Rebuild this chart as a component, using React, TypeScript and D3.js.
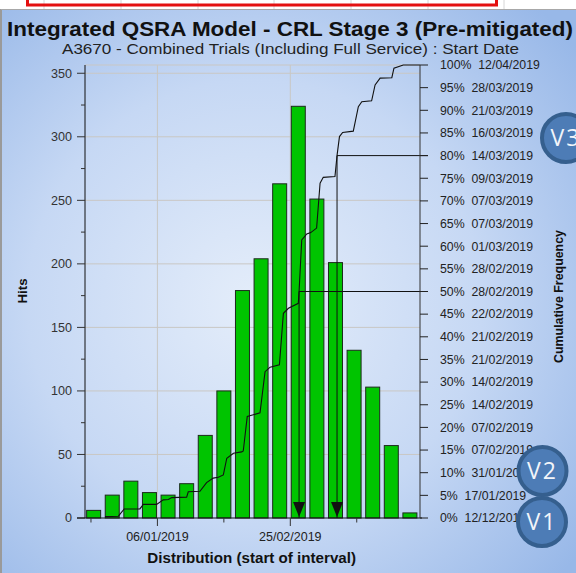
import React from 'react';
import * as d3 from 'd3';

// ---- data ----
const binStarts = ["2018-12-10","2018-12-17","2018-12-24","2018-12-31","2019-01-07","2019-01-14","2019-01-21","2019-01-28","2019-02-04","2019-02-11","2019-02-18","2019-02-25","2019-03-04","2019-03-11","2019-03-18","2019-03-25","2019-04-01","2019-04-08"];
const hits = [6,18,29,20,18,27,65,100,179,204,263,324,251,201,132,103,57,4];

// cumulative curve: days after 12/12/2018 and cumulative %
const cdfDays = [5.3,10.3,12.5,18.4,19.7,24.7,27.2,29.1,30.4,36.0,36.6,41.0,43.5,46.0,47.9,49.8,51.1,53.6,56.7,57.3,58.8,63.6,65.5,67.4,70.9,72.4,74.3,78.0,78.3,79.3,81.2,82.7,84.9,86.2,87.4,91.8,92.6,93.5,94.7,98.7,100.6,101.9,105.6,106.9,108.8,113.2,114.0,117.5,123.8];
const cdfPct  = [0.3,0.4,2.0,2.0,3.0,3.0,4.0,4.1,4.5,4.6,5.8,5.9,7.8,8.8,9.0,9.5,13.2,14.3,14.6,14.8,22.4,23.2,32.3,33.3,33.8,45.2,46.3,47.4,50.0,61.4,62.7,63.0,64.0,73.9,75.2,75.4,80.1,84.2,85.1,85.4,90.8,91.9,92.1,95.6,97.1,97.2,99.3,100,100];

const hitTicks = [0,50,100,150,200,250,300,350];
const hitMinorTicks = [25,75,125,175,225,275,325];
const xTickDates = ["2018-12-12","2019-01-06","2019-01-31","2019-02-25","2019-03-22"];
const xLabelDates = ["2019-01-06","2019-02-25"];
const xLabels = ["06/01/2019","25/02/2019"];
const pctTicks = [0,5,10,15,20,25,30,35,40,45,50,55,60,65,70,75,80,85,90,95,100];
const pctDates = ["12/12/2018","17/01/2019","31/01/2019","07/02/2019","07/02/2019","14/02/2019","14/02/2019","21/02/2019","21/02/2019","22/02/2019","28/02/2019","28/02/2019","01/03/2019","07/03/2019","07/03/2019","09/03/2019","14/03/2019","16/03/2019","21/03/2019","28/03/2019","12/04/2019"];
const markerPcts = [50, 80];
const badgeLabels = ["V1","V2","V3"];

const FONT = "'Liberation Sans', Arial, sans-serif";

export default function App() {
  const W = 576, H = 573;
  const L = 85, R = 420, T = 65, B = 518;
  const parse = d3.timeParse("%Y-%m-%d");
  const base = parse("2018-12-12") as Date;
  const DAY = 864e5;
  const x = d3.scaleTime()
    .domain([new Date(+base - 2.25 * DAY), new Date(+base + 123.8 * DAY)])
    .range([L, R]);
  const yL = d3.scaleLinear().domain([0, 356.5]).range([B, T]);
  const yR = d3.scaleLinear().domain([0, 100]).range([B, T]);
  const barW = 14;

  const bars = binStarts.map((s, i) => {
    const d = parse(s) as Date;
    const cx = x(new Date(+d + 3 * DAY));
    return { x: cx - barW / 2, y: yL(hits[i]), h: B - yL(hits[i]) };
  });

  const cdfPts: [number, number][] = cdfDays.map((d, i) => [x(new Date(+base + d * DAY)), yR(cdfPct[i])]);
  const linePath = d3.line()(cdfPts) || "";

  const crossDay = (p: number) => {
    for (let i = 1; i < cdfPct.length; i++) {
      if (cdfPct[i] >= p) {
        const t = (p - cdfPct[i - 1]) / (cdfPct[i] - cdfPct[i - 1]);
        return cdfDays[i - 1] + t * (cdfDays[i] - cdfDays[i - 1]);
      }
    }
    return cdfDays[cdfDays.length - 1];
  };

  const markers = markerPcts.map(p => ({ p, x: x(new Date(+base + crossDay(p) * DAY)), y: yR(p) }));

  const badgePos = [
    { cx: 542, cy: 522 },
    { cx: 542.5, cy: 471 },
    { cx: 566, cy: 138 },
  ];

  const topGridX = [44, 121, 198, 274, 351, 428, 504];

  return (
    <div style={{ position: 'absolute', left: 0, top: 0 }}>
      <svg width={W} height={H} style={{ display: 'block' }}>
        <defs>
          <radialGradient id="bg" cx="0.44" cy="0.52" r="0.72">
            <stop offset="0" stopColor="#e4edfa" />
            <stop offset="0.55" stopColor="#c6d8f4" />
            <stop offset="1" stopColor="#98b8e8" />
          </radialGradient>
        </defs>
        {/* spreadsheet strip above chart */}
        <rect x={0} y={0} width={W} height={10} fill="#ffffff" />
        {topGridX.map((gx, i) => (
          <line key={i} x1={gx} x2={gx} y1={0} y2={10} stroke="#d6d6d6" strokeWidth={1} />
        ))}
        <path d="M27.5,0 V5 H496.5 V0" fill="none" stroke="#e41010" strokeWidth={3} />
        {/* chart background */}
        <rect x={2} y={10} width={W - 2} height={H - 10} fill="url(#bg)" />
        <line x1={1} x2={1} y1={9} y2={H} stroke="#9a9a9a" strokeWidth={2} />
        <line x1={1} x2={W} y1={9.5} y2={9.5} stroke="#a8a8a8" strokeWidth={1} />

        {/* titles */}
        <text x={290} y={35.5} textAnchor="middle" fontFamily={FONT} fontWeight="bold" fontSize={20.5}
          fill="#111" textLength={566} lengthAdjust="spacingAndGlyphs">Integrated QSRA Model - CRL Stage 3 (Pre-mitigated)</text>
        <text x={290.5} y={53.5} textAnchor="middle" fontFamily={FONT} fontSize={15} fill="#222"
          textLength={457} lengthAdjust="spacingAndGlyphs">A3670 - Combined Trials (Including Full Service) : Start Date</text>

        {/* gridlines */}
        <line x1={L} x2={R} y1={T} y2={T} stroke="#c9c7c4" strokeWidth={1} />
        {hitTicks.filter(t => t > 0).map(t => (
          <line key={t} x1={L} x2={R} y1={yL(t)} y2={yL(t)} stroke="#c9c7c4" strokeWidth={1} />
        ))}
        {xLabelDates.map(s => (
          <line key={s} x1={x(parse(s) as Date)} x2={x(parse(s) as Date)} y1={T} y2={B} stroke="#c9c7c4" strokeWidth={1} />
        ))}

        {/* bars */}
        {bars.map((b, i) => (
          <rect key={i} x={b.x} y={b.y} width={barW} height={b.h} fill="#00c400" stroke="#1c2a1c" strokeWidth={1} />
        ))}

        {/* cumulative line */}
        <path d={linePath} fill="none" stroke="#111" strokeWidth={1.1} />

        {/* markers */}
        {markers.map(m => (
          <g key={m.p}>
            <line x1={m.x} x2={428} y1={m.y} y2={m.y} stroke="#111" strokeWidth={1} />
            <line x1={m.x} x2={m.x} y1={m.y} y2={B} stroke="#111" strokeWidth={1} />
            <path d={`M${m.x - 6},${502} L${m.x + 6},${502} L${m.x},${517} Z`} fill="#111" />
          </g>
        ))}

        {/* left axis */}
        <line x1={L} x2={L} y1={T} y2={B} stroke="#111" strokeWidth={1} />
        {hitTicks.map(t => (
          <g key={t}>
            <line x1={77} x2={L} y1={yL(t)} y2={yL(t)} stroke="#333" strokeWidth={1} />
            <text x={72} y={yL(t)} dy="0.35em" textAnchor="end" fontFamily={FONT} fontSize={12.6} fill="#333">{t}</text>
          </g>
        ))}
        {hitMinorTicks.map(t => (
          <line key={t} x1={81} x2={L} y1={yL(t)} y2={yL(t)} stroke="#333" strokeWidth={1} />
        ))}
        <text transform={`translate(22,291) rotate(-90)`} textAnchor="middle" dy="0.35em" fontFamily={FONT}
          fontWeight="bold" fontSize={13.5} fill="#111" textLength={25} lengthAdjust="spacingAndGlyphs">Hits</text>

        {/* bottom axis */}
        <line x1={77} x2={422} y1={B} y2={B} stroke="#111" strokeWidth={1} />
        {xTickDates.map(s => {
          const tx = x(parse(s) as Date);
          const major = xLabelDates.includes(s);
          return <line key={s} x1={tx} x2={tx} y1={B} y2={B + (major ? 8 : 4.5)} stroke="#333" strokeWidth={1} />;
        })}
        {xLabelDates.map((s, i) => (
          <text key={s} x={x(parse(s) as Date)} y={540.5} textAnchor="middle" fontFamily={FONT} fontSize={12.5} fill="#222">{xLabels[i]}</text>
        ))}
        <text x={251.7} y={563} textAnchor="middle" fontFamily={FONT} fontWeight="bold" fontSize={15}
          fill="#111" textLength={208.7} lengthAdjust="spacingAndGlyphs">Distribution (start of interval)</text>

        {/* right axis */}
        <line x1={R} x2={R} y1={T} y2={B} stroke="#333" strokeWidth={1} />
        {pctTicks.map((p, i) => (
          <g key={p}>
            <line x1={R} x2={428} y1={yR(p)} y2={yR(p)} stroke="#222" strokeWidth={1} />
            <text x={440} y={yR(p)} dy="0.35em" fontFamily={FONT} fontSize={12.3} fill="#222"
              style={{ whiteSpace: 'pre' }}>{`${p}%  ${pctDates[i]}`}</text>
          </g>
        ))}
        <text transform={`translate(558,296.5) rotate(-90)`} textAnchor="middle" dy="0.35em" fontFamily={FONT}
          fontWeight="bold" fontSize={13} fill="#111" textLength={133} lengthAdjust="spacingAndGlyphs">Cumulative Frequency</text>

        {/* badges */}
        {badgeLabels.map((lab, i) => (
          <g key={lab}>
            <circle cx={badgePos[i].cx} cy={badgePos[i].cy} r={24} fill="#4d7cb6" stroke="#355f8e" strokeWidth={4} />
            <text x={badgePos[i].cx} y={badgePos[i].cy} dy="0.36em" textAnchor="middle" fontFamily="'Open Sans', sans-serif"
              fontSize={23} fill="#f2f5fa" letterSpacing={2}>{lab}</text>
          </g>
        ))}
      </svg>
    </div>
  );
}
